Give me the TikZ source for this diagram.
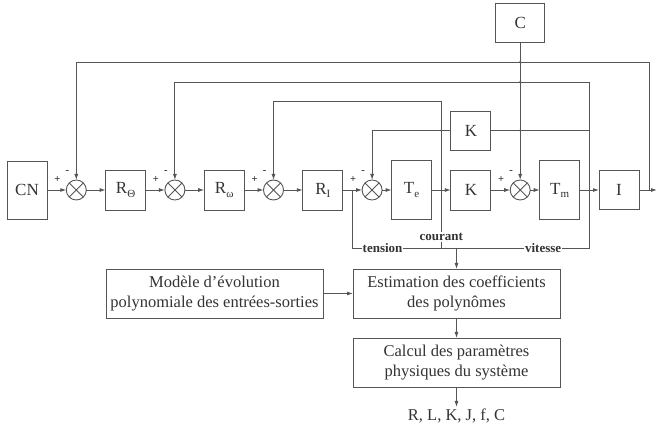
\documentclass[tikz,border=0pt]{standalone}
\usepackage{fontspec}
\setmainfont{Liberation Serif}
\usetikzlibrary{positioning, arrows.meta, calc}
\definecolor{linegray}{HTML}{555555}
\definecolor{textgray}{HTML}{333333}
\newcommand{\lowsub}[1]{\raisebox{-0.4ex}{\fontsize{11}{11}\selectfont #1}}
\tikzset{
        >={Latex[length=6pt,width=4pt]}, % small filled arrow heads
        block/.style={draw, minimum width=40pt, minimum height=40pt, inner sep=0pt, outer sep=0pt, font=\fontsize{17}{20}\selectfont}, % transfer blocks
        sumnode/.style={circle, draw, minimum size=20pt, inner sep=0pt, outer sep=0pt,
                path picture={\draw (path picture bounding box.north west) -- (path picture bounding box.south east)
                        (path picture bounding box.north east) -- (path picture bounding box.south west);}}, % comparators
        textbox/.style={draw, minimum height=49pt, inner sep=2pt, outer sep=0pt, align=center, font=\fontsize{16.5}{20}\selectfont}, % estimation boxes
        sig/.style={inner sep=0pt, font=\bfseries\fontsize{10.5}{10}\selectfont}, % + and - signs
        buslabel/.style={fill=white, inner sep=1pt, font=\bfseries\fontsize{13}{13}\selectfont}, % measured signals
        jump/.style={circle, fill, inner sep=0pt, minimum size=2.2pt}, % crossing marks
        }

\begin{document}
\begin{tikzpicture}[x=1pt, y=-1pt, line width=0.9pt, color=linegray, text=textgray]
        \useasboundingbox (0,0) rectangle (657,430);
        % main chain
        \node[block, minimum height=58pt] (CN) at (27,190) {CN};
        \node[sumnode, right=19.3pt of CN] (S1) {};
        \node[block, right=19.3pt of S1] (RTheta) {R\lowsub{Θ}};
        \node[sumnode, right=19.3pt of RTheta] (S2) {};
        \node[block, right=19.3pt of S2] (Romega) {R\lowsub{ω}};
        \node[sumnode, right=19.3pt of Romega] (S3) {};
        \node[block, right=19.3pt of S3] (RI) {R\lowsub{I}};
        \node[sumnode, right=19.3pt of RI] (S4) {};
        \node[block, minimum height=59pt, right=9.5pt of S4] (Te) {T\lowsub{e}};
        \node[block, right=19.3pt of Te] (Kfwd) {K};
        \node[sumnode, right=19.3pt of Kfwd] (S5) {};
        \node[block, minimum height=59pt, right=9.5pt of S5] (Tm) {T\lowsub{m}};
        \node[block, minimum height=39pt, right=19.3pt of Tm] (Int) {I};
        \node[block, minimum height=39pt, above=20pt of Kfwd] (Kfb) {K};
        \node[block, minimum width=49pt, minimum height=39pt, above=138pt of S5] (C) {C};

        % taps and levels
        \coordinate (bI) at ($(RI.east)!0.5!(S4.west)$);
        \coordinate (bC) at ($(Te.east)!0.5!(Kfwd.west)$);
        \coordinate (bV) at ($(Tm.east)!0.5!(Int.west)$);
        \coordinate (bP) at ([xshift=10pt]Int.east);
        \coordinate (out) at ([xshift=18pt]Int.east);
        \coordinate (lvP) at (0,62);
        \coordinate (lvV) at (0,82);
        \coordinate (lvC) at (0,101);
        \coordinate (bus) at (0,248);

        \foreach \a/\b in {CN/S1, S1/RTheta, RTheta/S2, S2/Romega, Romega/S3, S3/RI, RI/S4, S4/Te, Te/Kfwd, Kfwd/S5, S5/Tm, Tm/Int}
                \draw[->] (\a) -- (\b);
        \draw[->] (Int) -- (out);

        \foreach \s in {S1, S2, S3, S4, S5} {
                \node[sig] (p\s) at ([shift={(-19pt,10pt)}]\s.center) {+};
                \node[sig] (m\s) at ([shift={(-9pt,18pt)}]\s.center) {-};
        }

        % feedback loops
        \draw[->] (bP) -- (bP |- lvP) -| (S1.north);
        \draw[->] (bV) -- (bV |- lvV) -| (S2.north);
        \draw[->] (bC) -- (bC |- lvC) -| (S3.north);
        \draw (bV |- Kfb) -- (Kfb.east);
        \draw[->] (Kfb.west) -| (S4.north);
        \draw[->] (C) -- (S5);
        \node[jump] (j1) at (C |- lvP) {};
        \node[jump] (j2) at (C |- lvV) {};
        \node[jump] (j3) at (C |- Kfb) {};
        \node[jump] (j4) at (bC |- Kfb) {};

        % identification
        \node[textbox, minimum width=207pt] (Estim) at (456.5,293.5) {Estimation des coefficients\\des polynômes};
        \node[textbox, minimum width=217pt, left=30pt of Estim] (Model) {Modèle d’évolution\\polynomiale des entrées-sorties};
        \node[textbox, minimum width=207pt, below=20pt of Estim] (Calc) {Calcul des paramètres\\physiques du système};
        \node[inner sep=1pt, font=\fontsize{16.5}{18}\selectfont, below=20pt of Calc] (Res) {R, L, K, J, f, C};

        \draw (bI) -- (bI |- bus) -- node[buslabel, pos=0.127] {tension} node[buslabel, pos=0.805] {vitesse} (bV |- bus) -- (bV);
        \draw (bC) -- node[buslabel, pos=0.81] {courant} (bC |- bus);
        \draw[->] (Estim.north |- bus) -- (Estim);
        \draw[->] (Model) -- (Estim);
        \draw[->] (Estim) -- (Calc);
        \draw[->] (Calc) -- (Res);
\end{tikzpicture}
\end{document}
